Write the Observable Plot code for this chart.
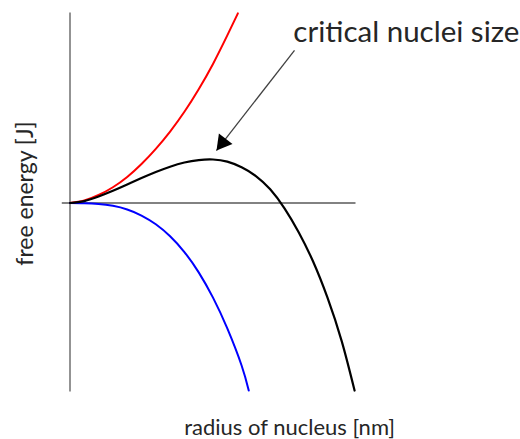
<!DOCTYPE html>
<html>
<head>
<meta charset="utf-8">
<script src="https://cdn.jsdelivr.net/npm/d3@7"></script>
<script src="https://cdn.jsdelivr.net/npm/@observablehq/plot@0.6"></script>
<style>
  html, body { margin: 0; padding: 0; background: #fff; }
  #chart svg { display: block; }
</style>
</head>
<body>
<div id="chart"></div>
<script>
// Nucleation free energy vs. nucleus radius (arbitrary units)
// Surface-energy term (positive, grows ~ r^2)
const surfaceR = [0, 0.5, 1, 1.5, 2, 2.5, 3, 3.5, 4, 4.5, 5, 5.5, 5.87];
const surfaceG = [0, 0.13, 0.42, 0.83, 1.37, 2.05, 2.85, 3.76, 4.80, 5.99, 7.32, 8.82, 9.98];

// Volume-energy term (negative, falls ~ r^3)
const volumeR = [0, 0.5, 1, 1.5, 2, 2.5, 3, 3.5, 4, 4.5, 5, 5.5, 6, 6.25];
const volumeG = [0, -0.01, -0.05, -0.15, -0.34, -0.66, -1.12, -1.75, -2.58, -3.65, -4.98, -6.60, -8.55, -9.87];

// Total free energy (sum of both terms)
const totalR = [0, 0.5, 1, 1.5, 2, 2.5, 3, 3.5, 4, 4.5, 5, 5.5, 6, 6.5, 7, 7.5, 8, 8.5, 9, 9.5, 9.95];
const totalG = [0, 0.10, 0.34, 0.64, 0.97, 1.31, 1.63, 1.91, 2.13, 2.26, 2.29, 2.18, 1.88, 1.42, 0.72, -0.28, -1.55, -3.08, -4.97, -7.27, -9.87];

// Annotation: label and arrow pointing at the maximum of the total curve
const noteText = ["critical nuclei size"];
const noteAt = [7.81, 8.45];
const arrowFrom = [7.85, 8.03];
const arrowTo = [5.12, 2.76];

// Axis titles
const xTitle = "radius of nucleus [nm]";
const yTitle = "free energy [J]";
const xTitleAt = [7.68, -11.85];
const yTitleAt = [-1.56, 0.5];

// Axis extents
const xAxisSpan = [-0.27, 10];
const yAxisSpan = [-9.95, 10];

const toRows = (xs, ys) => xs.map((r, i) => ({ r, g: ys[i] }));
const surface = toRows(surfaceR, surfaceG);
const volume = toRows(volumeR, volumeG);
const total = toRows(totalR, totalG);

const font = "Lato, 'Open Sans', sans-serif";
const ink = "#262626";
const axisColor = "#595959";

const chart = Plot.plot({
  width: 520,
  height: 439,
  marginLeft: 69.5,
  marginRight: 164.5,
  marginTop: 12.5,
  marginBottom: 46.5,
  x: { domain: [0, 10], axis: null },
  y: { domain: [-10, 10], axis: null },
  style: { fontFamily: font, background: "#fff", overflow: "visible" },
  marks: [
    Plot.ruleY([0], { x1: xAxisSpan[0], x2: xAxisSpan[1], stroke: axisColor, strokeWidth: 1.3 }),
    Plot.ruleX([0], { y1: yAxisSpan[0], y2: yAxisSpan[1], stroke: axisColor, strokeWidth: 1.3 }),
    Plot.line(surface, { x: "r", y: "g", stroke: "#ff0000", strokeWidth: 2, curve: "natural" }),
    Plot.line(volume, { x: "r", y: "g", stroke: "#0000ff", strokeWidth: 2, curve: "natural" }),
    Plot.line(total, { x: "r", y: "g", stroke: "#000000", strokeWidth: 2.2, curve: "natural" }),
    // arrow shaft
    Plot.link([0], {
      x1: () => arrowFrom[0], y1: () => arrowFrom[1],
      x2: () => arrowTo[0], y2: () => arrowTo[1],
      stroke: "#404040", strokeWidth: 1.3
    }),
    // filled arrowhead, tip placed on the arrow's end point
    Plot.dot([0], {
      x: () => arrowTo[0], y: () => arrowTo[1],
      symbol: "triangle", r: 6.4, fill: "#000", stroke: "none",
      rotate: 218, dx: 6.2, dy: -7.9
    }),
    Plot.text(noteText, {
      x: () => noteAt[0], y: () => noteAt[1], text: d => d,
      textAnchor: "start", lineAnchor: "bottom",
      fontSize: 29.5, fill: ink
    }),
    Plot.text([xTitle], {
      x: () => xTitleAt[0], y: () => xTitleAt[1], text: d => d,
      textAnchor: "middle", lineAnchor: "middle",
      fontSize: 22, fill: ink
    }),
    Plot.text([yTitle], {
      x: () => yTitleAt[0], y: () => yTitleAt[1], text: d => d,
      textAnchor: "middle", lineAnchor: "middle", rotate: -90,
      fontSize: 23, fill: ink
    })
  ]
});

document.getElementById("chart").appendChild(chart);
</script>
</body>
</html>
